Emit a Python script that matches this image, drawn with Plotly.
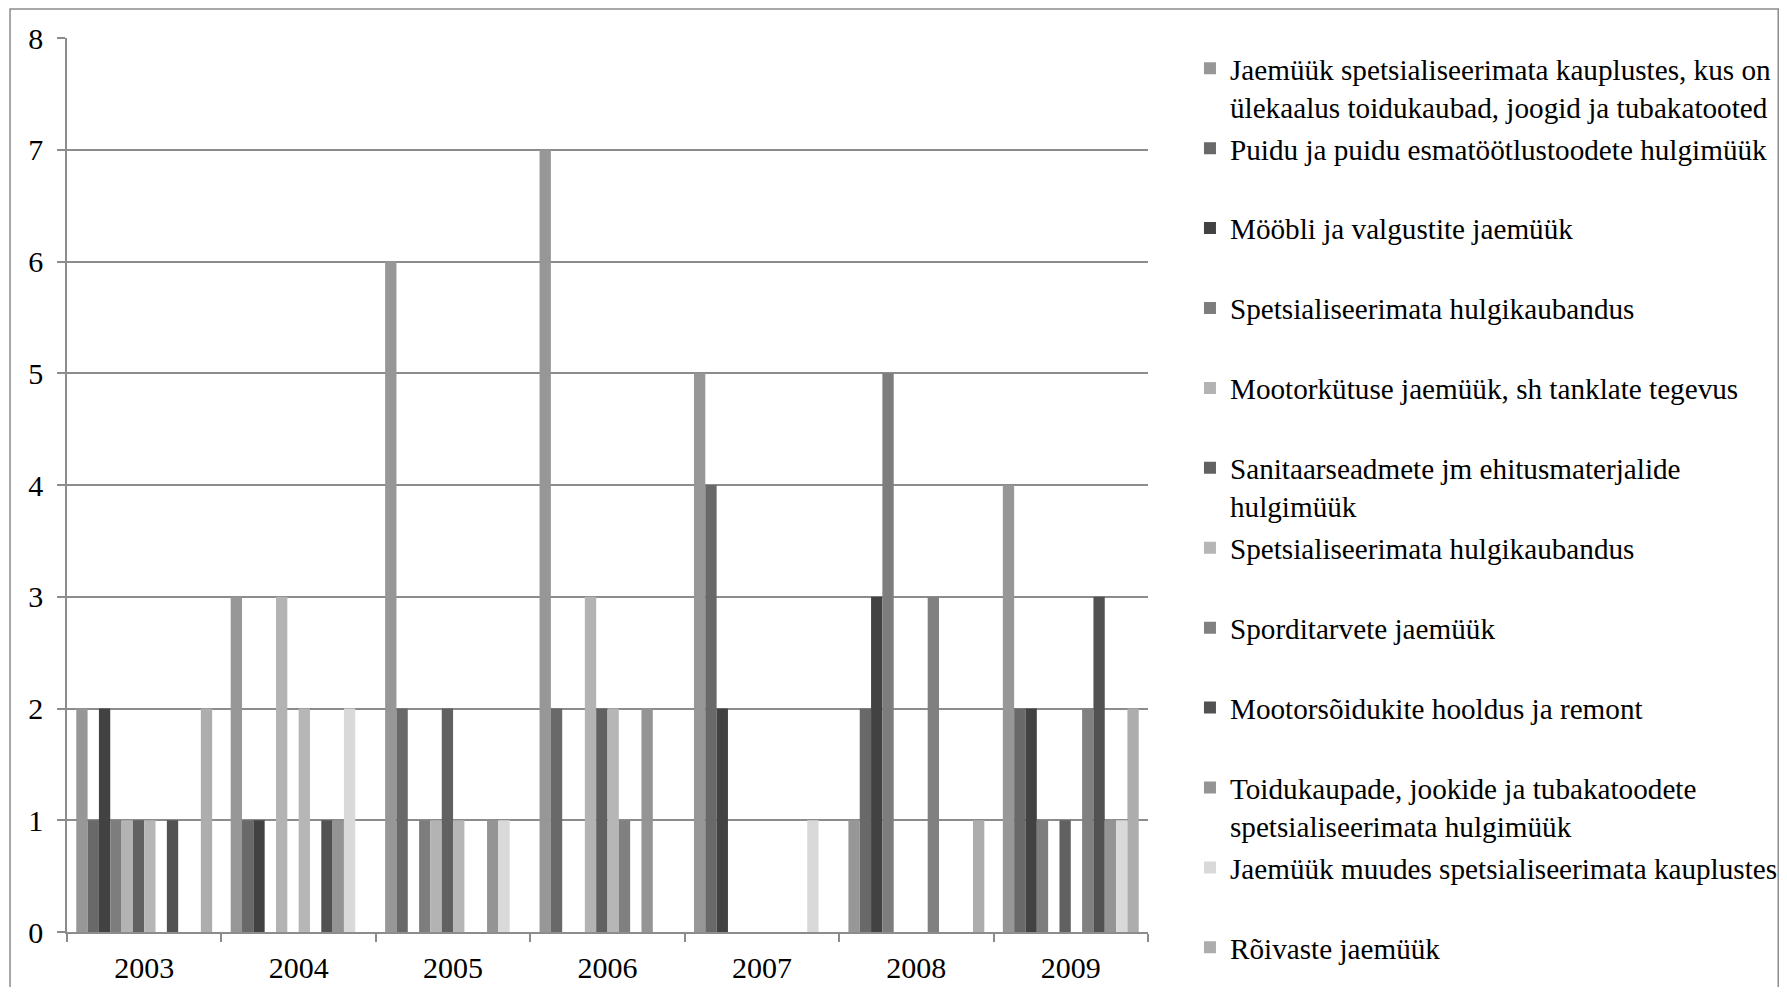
import plotly.graph_objects as go

years = ["2003", "2004", "2005", "2006", "2007", "2008", "2009"]

series_names = [
    "Jaemüük spetsialiseerimata kauplustes, kus on<br>ülekaalus toidukaubad, joogid ja tubakatooted",
    "Puidu ja puidu esmatöötlustoodete hulgimüük",
    "Mööbli ja valgustite jaemüük",
    "Spetsialiseerimata hulgikaubandus",
    "Mootorkütuse jaemüük, sh tanklate tegevus",
    "Sanitaarseadmete jm ehitusmaterjalide<br>hulgimüük",
    "Spetsialiseerimata hulgikaubandus",
    "Sporditarvete jaemüük",
    "Mootorsõidukite hooldus ja remont",
    "Toidukaupade, jookide ja tubakatoodete<br>spetsialiseerimata hulgimüük",
    "Jaemüük muudes spetsialiseerimata kauplustes",
    "Rõivaste jaemüük",
]

# values per series, across years 2003..2009
s01 = [2, 3, 6, 7, 5, 1, 4]
s02 = [1, 1, 2, 2, 4, 2, 2]
s03 = [2, 1, 0, 0, 2, 3, 2]
s04 = [1, 0, 1, 0, 0, 5, 1]
s05 = [1, 3, 1, 3, 0, 0, 0]
s06 = [1, 0, 2, 2, 0, 0, 1]
s07 = [1, 2, 1, 2, 0, 0, 0]
s08 = [0, 0, 0, 1, 0, 3, 2]
s09 = [1, 1, 0, 0, 0, 0, 3]
s10 = [0, 1, 1, 2, 0, 0, 1]
s11 = [0, 2, 1, 0, 1, 0, 1]
s12 = [2, 0, 0, 0, 0, 1, 2]

series_values = [s01, s02, s03, s04, s05, s06, s07, s08, s09, s10, s11, s12]

colors = ["#979797", "#696969", "#424242", "#7d7d7d", "#b3b3b3", "#616161",
          "#b6b6b6", "#808080", "#525252", "#949494", "#d9d9d9", "#adadad"]

FONT = "Liberation Serif"
GRID = "#8c8c8c"

fig = go.Figure()
for i, (name, vals, col) in enumerate(zip(series_names, series_values, colors)):
    label = name if "<br>" in name else name + "<br> "
    fig.add_trace(go.Bar(
        x=years, y=vals, name=label, marker=dict(color=col, line=dict(width=0)),
        legendgroup="g%02d" % i,
    ))

fig.update_layout(
    width=1771, height=979,
    margin=dict(l=59, r=631, t=30, b=55, autoexpand=False),
    paper_bgcolor="white", plot_bgcolor="white",
    barmode="group", bargap=0.12, bargroupgap=0,
    font=dict(family=FONT, size=30, color="black"),
    legend=dict(
        xref="container", yref="container",
        x=0.6674, y=0.9645, xanchor="left", yanchor="top",
        valign="top", maxheight=1.0,
        traceorder="grouped", tracegroupgap=1,
        font=dict(family=FONT, size=29.2, color="black"),
        bgcolor="rgba(0,0,0,0)", itemclick=False,
    ),
    showlegend=True,
    xaxis=dict(
        type="category", showgrid=False, showline=True, linecolor=GRID, linewidth=1.5,
        ticks="outside", ticklen=8, tickcolor=GRID, tickwidth=1.5, tickson="boundaries",
        ticklabelstandoff=8,
        tickfont=dict(family=FONT, size=30, color="black"),
    ),
    yaxis=dict(
        range=[0, 8], dtick=1, showgrid=True, gridcolor=GRID, gridwidth=1.5,
        showline=True, linecolor=GRID, linewidth=1.5, zeroline=False,
        ticks="outside", ticklen=8, tickcolor=GRID, tickwidth=1.5,
        ticklabelstandoff=8,
        tickfont=dict(family=FONT, size=30, color="black"),
    ),
    shapes=[dict(type="rect", xref="paper", yref="paper",
                 x0=-0.0527, x1=1.5830, y0=-0.2, y1=1.0324,
                 line=dict(color=GRID, width=1.5), fillcolor="rgba(0,0,0,0)", layer="below")],
)

fig.write_html("out.html")
